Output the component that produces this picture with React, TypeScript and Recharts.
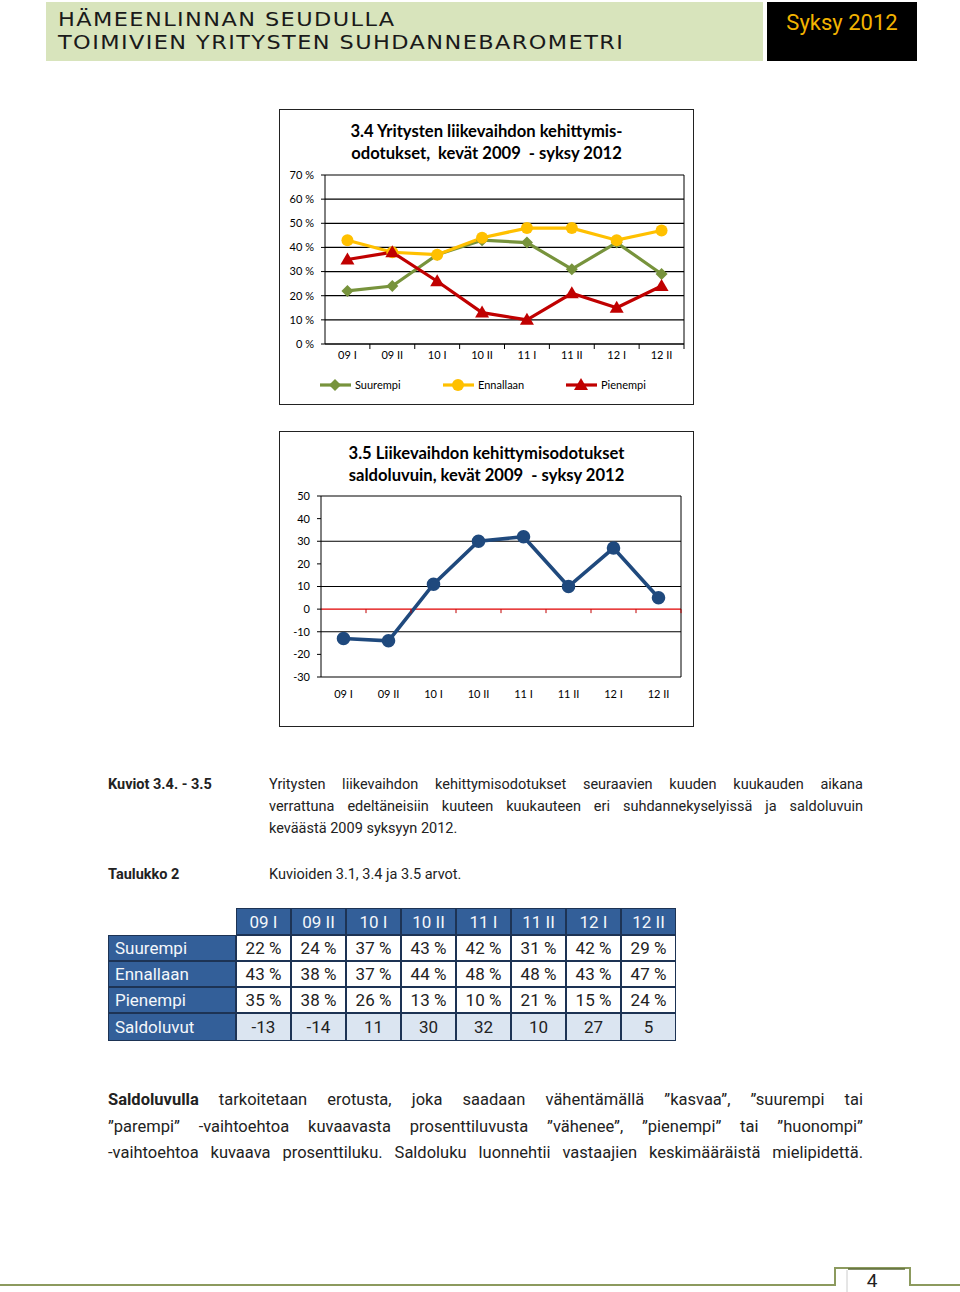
import { LineChart, Line, XAxis, YAxis, CartesianGrid, ReferenceLine } from "recharts";

// survey rounds
const categories = ["09 I", "09 II", "10 I", "10 II", "11 I", "11 II", "12 I", "12 II"];

// shares of answers, %
const suurempi = [22, 24, 37, 43, 42, 31, 42, 29];
const ennallaan = [43, 38, 37, 44, 48, 48, 43, 47];
const pienempi = [35, 38, 26, 13, 10, 21, 15, 24];

// balance figures
const saldoluvut = [-13, -14, 11, 30, 32, 10, 27, 5];

const pctTicks = [0, 10, 20, 30, 40, 50, 60, 70];
const saldoTicks = [-30, -20, -10, 0, 10, 20, 30, 40, 50];

const chartData = categories.map((cat, i) => ({
  cat,
  suurempi: suurempi[i],
  ennallaan: ennallaan[i],
  pienempi: pienempi[i],
  saldo: saldoluvut[i],
}));

const GREEN = "#77933c";
const YELLOW = "#ffc000";
const RED = "#c00000";
const NAVY = "#1f497d";
const CHART_FONT = "Lato, 'Open Sans', sans-serif";
const BODY_FONT = "Roboto, 'Liberation Sans', sans-serif";

const CH_W = 415;
const CH_H = 296;
const BAND1 = (CH_W - 46 - 10) / 8;
const BAND2 = (CH_W - 42 - 13) / 8;
const PLOT2_H = CH_H - 65 - 50;

type Shape = "diamond" | "circle" | "triangle";

const series: { key: string; name: string; color: string; shape: Shape }[] = [
  { key: "suurempi", name: "Suurempi", color: GREEN, shape: "diamond" },
  { key: "ennallaan", name: "Ennallaan", color: YELLOW, shape: "circle" },
  { key: "pienempi", name: "Pienempi", color: RED, shape: "triangle" },
];

function marker(shape: Shape, cx: number, cy: number, color: string, key?: string | number) {
  if (shape === "diamond")
    return <path key={key} d={`M${cx},${cy - 6}L${cx + 6},${cy}L${cx},${cy + 6}L${cx - 6},${cy}Z`} fill={color} />;
  if (shape === "triangle")
    return <path key={key} d={`M${cx},${cy - 7}L${cx + 7},${cy + 5}L${cx - 7},${cy + 5}Z`} fill={color} />;
  return <circle key={key} cx={cx} cy={cy} r={6} fill={color} />;
}

function PctTick(props: any) {
  const { x, y, payload } = props;
  return (
    <g>
      <line x1={x + BAND1 / 2} x2={x + BAND1 / 2} y1={y - 5} y2={y} stroke="#000" />
      <text x={x} y={y + 10} textAnchor="middle" fontSize={11} fontFamily={CHART_FONT} fill="#000">
        {payload.value}
      </text>
    </g>
  );
}

function SaldoTick(props: any) {
  const { x, y, payload } = props;
  // zero line sits 30/80 of plot height above the bottom axis
  const zeroY = y - 13 - (PLOT2_H * 30) / 80;
  return (
    <g>
      <line x1={x + BAND2 / 2} x2={x + BAND2 / 2} y1={zeroY} y2={zeroY + 4} stroke="#c00000" />
      <text x={x} y={y + 8} textAnchor="middle" fontSize={11} fontFamily={CHART_FONT} fill="#000">
        {payload.value}
      </text>
    </g>
  );
}

const boxStyle: React.CSSProperties = {
  position: "absolute",
  border: "1.5px solid #222",
  boxSizing: "border-box",
  background: "#fff",
};

const titleStyle: React.CSSProperties = {
  position: "absolute",
  left: 0,
  width: "100%",
  textAlign: "center",
  fontFamily: CHART_FONT,
  fontWeight: 700,
  fontSize: 16.6,
  lineHeight: "22px",
  color: "#000",
};

function Chart34() {
  return (
    <>
      <div style={{ ...boxStyle, left: 279, top: 109, width: CH_W, height: CH_H }}>
        <div style={{ ...titleStyle, top: 10, left: 0 }}>
          3.4 Yritysten liikevaihdon kehittymis-
          <br />
          odotukset,&nbsp; kevät 2009 &nbsp;- syksy 2012
        </div>
      </div>
      <div style={{ position: "absolute", left: 279, top: 109 }}>
        <LineChart width={CH_W} height={CH_H} data={chartData} margin={{ top: 66, right: 9, bottom: 36, left: 0 }}>
          <CartesianGrid vertical={false} stroke="#000" strokeWidth={1.2} />
          <XAxis
            dataKey="cat"
            height={25}
            padding={{ left: BAND1 / 2, right: BAND1 / 2 }}
            tickSize={5}
            tickMargin={0}
            tickLine={false}
            axisLine={{ stroke: "#000" }}
            tick={<PctTick />}
            interval={0}
          />
          <YAxis
            width={46}
            domain={[0, 70]}
            ticks={pctTicks}
            tickFormatter={(v) => `${v} %`}
            tickSize={4}
            tickMargin={7}
            tickLine={{ stroke: "#000" }}
            axisLine={{ stroke: "#000" }}
            tick={{ fontSize: 11, fill: "#000", fontFamily: CHART_FONT }}
          />
          <YAxis yAxisId="r" orientation="right" width={1} tick={false} tickLine={false} axisLine={{ stroke: "#000" }} />
          {series.map((s) => (
            <Line
              key={s.key}
              dataKey={s.key}
              name={s.name}
              stroke={s.color}
              strokeWidth={3.2}
              isAnimationActive={false}
              dot={(p: any) => marker(s.shape, p.cx, p.cy, s.color, `${s.key}-${p.index}`)}
              activeDot={false}
            />
          ))}
        </LineChart>
      </div>
      <div
        style={{
          position: "absolute",
          left: 320,
          top: 377,
          display: "flex",
          fontFamily: CHART_FONT,
          fontSize: 11,
          lineHeight: "16px",
          color: "#000",
        }}
      >
        {series.map((s) => (
          <div key={s.key} style={{ display: "flex", alignItems: "center", width: 123 }}>
            <svg width={32} height={16}>
              <line x1={0} x2={31} y1={8} y2={8} stroke={s.color} strokeWidth={3.2} />
              {marker(s.shape, 15, 8, s.color)}
            </svg>
            <span style={{ marginLeft: 3 }}>{s.name}</span>
          </div>
        ))}
      </div>
    </>
  );
}

function Chart35() {
  return (
    <>
      <div style={{ ...boxStyle, left: 279, top: 431, width: CH_W, height: CH_H }}>
        <div style={{ ...titleStyle, top: 10, left: 0 }}>
          3.5 Liikevaihdon kehittymisodotukset
          <br />
          saldoluvuin, kevät 2009 &nbsp;- syksy 2012
        </div>
      </div>
      <div style={{ position: "absolute", left: 279, top: 431 }}>
        <LineChart width={CH_W} height={CH_H} data={chartData} margin={{ top: 65, right: 12, bottom: 20, left: 0 }}>
          <CartesianGrid vertical={false} stroke="#000" strokeWidth={1.2} />
          <XAxis
            dataKey="cat"
            height={30}
            padding={{ left: BAND2 / 2, right: BAND2 / 2 }}
            tickSize={0}
            tickMargin={13}
            tickLine={false}
            axisLine={false}
            tick={<SaldoTick />}
            interval={0}
          />
          <YAxis
            width={42}
            domain={[-30, 50]}
            ticks={saldoTicks}
            tickSize={4}
            tickMargin={7}
            tickLine={{ stroke: "#000" }}
            axisLine={{ stroke: "#000" }}
            tick={{ fontSize: 11, fill: "#000", fontFamily: CHART_FONT }}
          />
          <YAxis yAxisId="r" orientation="right" width={1} tick={false} tickLine={false} axisLine={{ stroke: "#000" }} />
          <ReferenceLine y={0} stroke="#e00000" strokeWidth={1.1} />
          <Line
            dataKey="saldo"
            stroke={NAVY}
            strokeWidth={3.6}
            isAnimationActive={false}
            dot={{ r: 5, fill: NAVY, stroke: NAVY }}
            activeDot={false}
          />
        </LineChart>
      </div>
    </>
  );
}

const tableRows = [
  { label: "Suurempi", values: suurempi.map((v) => `${v} %`), bg: "#fff" },
  { label: "Ennallaan", values: ennallaan.map((v) => `${v} %`), bg: "#fff" },
  { label: "Pienempi", values: pienempi.map((v) => `${v} %`), bg: "#fff" },
  { label: "Saldoluvut", values: saldoluvut.map((v) => `${v}`), bg: "#dbe5f1" },
];

const TABLE_BLUE = "#335f99";
const TABLE_BORDER = "#1d3354";

function DataTable() {
  const cell: React.CSSProperties = {
    border: `1px solid ${TABLE_BORDER}`,
    boxSizing: "border-box",
    display: "flex",
    alignItems: "center",
    justifyContent: "center",
    fontFamily: BODY_FONT,
    fontSize: 17,
    color: "#222",
  };
  const blue: React.CSSProperties = { background: TABLE_BLUE, color: "#f4f7fb" };
  return (
    <div
      style={{
        position: "absolute",
        left: 108,
        top: 908,
        display: "grid",
        gridTemplateColumns: "128px repeat(8, 55px)",
        gridTemplateRows: "27px 26px 26px 26px 28px",
      }}
    >
      <div />
      {categories.map((c) => (
        <div key={c} style={{ ...cell, ...blue }}>
          {c}
        </div>
      ))}
      {tableRows.map((r) => (
        <>
          <div key={r.label} style={{ ...cell, ...blue, justifyContent: "flex-start", paddingLeft: 6 }}>
            {r.label}
          </div>
          {r.values.map((v, i) => (
            <div key={r.label + i} style={{ ...cell, background: r.bg }}>
              {v}
            </div>
          ))}
        </>
      ))}
    </div>
  );
}

const justifyLine: React.CSSProperties = { textAlign: "justify", textAlignLast: "justify" };

export default function App() {
  return (
    <div style={{ position: "absolute", left: 0, top: 0, width: 960, height: 1292, background: "#fff", overflow: "hidden" }}>
      {/* header */}
      <div style={{ position: "absolute", left: 46, top: 2, width: 717, height: 59, background: "#d8e4bc" }} />
      <div
        style={{
          position: "absolute",
          left: 58,
          top: 8,
          fontFamily: "'DejaVu Sans', sans-serif",
          fontSize: 19,
          lineHeight: "23px",
          letterSpacing: 1.2,
          color: "#1a1a1a",
          whiteSpace: "nowrap",
          transform: "scaleX(1.18)",
          transformOrigin: "0 0",
        }}
      >
        HÄMEENLINNAN SEUDULLA
        <br />
        TOIMIVIEN YRITYSTEN SUHDANNEBAROMETRI
      </div>
      <div style={{ position: "absolute", left: 767, top: 2, width: 150, height: 59, background: "#000" }} />
      <div
        style={{
          position: "absolute",
          left: 767,
          top: 10,
          width: 150,
          textAlign: "center",
          fontFamily: BODY_FONT,
          fontSize: 22,
          color: "#f2b300",
        }}
      >
        Syksy 2012
      </div>

      <Chart34 />
      <Chart35 />

      {/* caption */}
      <div style={{ position: "absolute", left: 108, top: 774, fontFamily: BODY_FONT, fontWeight: 700, fontSize: 14.5, lineHeight: "22px", color: "#222" }}>
        Kuviot 3.4. - 3.5
      </div>
      <div style={{ position: "absolute", left: 269, top: 774, width: 594, fontFamily: BODY_FONT, fontSize: 14.5, lineHeight: "22px", color: "#222" }}>
        <div style={justifyLine}>Yritysten liikevaihdon kehittymisodotukset seuraavien kuuden kuukauden aikana</div>
        <div style={justifyLine}>verrattuna edeltäneisiin kuuteen kuukauteen eri suhdannekyselyissä ja saldoluvuin</div>
        <div>keväästä 2009 syksyyn 2012.</div>
      </div>
      <div style={{ position: "absolute", left: 108, top: 864, fontFamily: BODY_FONT, fontWeight: 700, fontSize: 14.5, lineHeight: "22px", color: "#222" }}>
        Taulukko 2
      </div>
      <div style={{ position: "absolute", left: 269, top: 864, fontFamily: BODY_FONT, fontSize: 14.5, lineHeight: "22px", color: "#222" }}>
        Kuvioiden 3.1, 3.4 ja 3.5 arvot.
      </div>

      <DataTable />

      {/* explanation */}
      <div style={{ position: "absolute", left: 108, top: 1087, width: 755, fontFamily: BODY_FONT, fontSize: 16.5, lineHeight: "26.5px", color: "#222" }}>
        <div style={justifyLine}>
          <b>Saldoluvulla</b> tarkoitetaan erotusta, joka saadaan vähentämällä ”kasvaa”, ”suurempi tai
        </div>
        <div style={justifyLine}>”parempi” -vaihtoehtoa kuvaavasta prosenttiluvusta ”vähenee”, ”pienempi” tai ”huonompi”</div>
        <div style={justifyLine}>-vaihtoehtoa kuvaava prosenttiluku. Saldoluku luonnehtii vastaajien keskimääräistä mielipidettä.</div>
      </div>

      {/* footer */}
      <svg style={{ position: "absolute", left: 0, top: 1260 }} width={960} height={32}>
        <path d="M0,25 H835 V8 H910 V25 H960" fill="none" stroke="#8c9a5e" strokeWidth={2} />
        <line x1={847} x2={847} y1={10} y2={32} stroke="#ccc" />
        <line x1={848} x2={905} y1={9} y2={9} stroke="#5e6b3a" strokeWidth={1.5} />
      </svg>
      <div style={{ position: "absolute", left: 852, top: 1269, width: 40, textAlign: "center", fontFamily: BODY_FONT, fontSize: 19, color: "#222" }}>
        4
      </div>
    </div>
  );
}
